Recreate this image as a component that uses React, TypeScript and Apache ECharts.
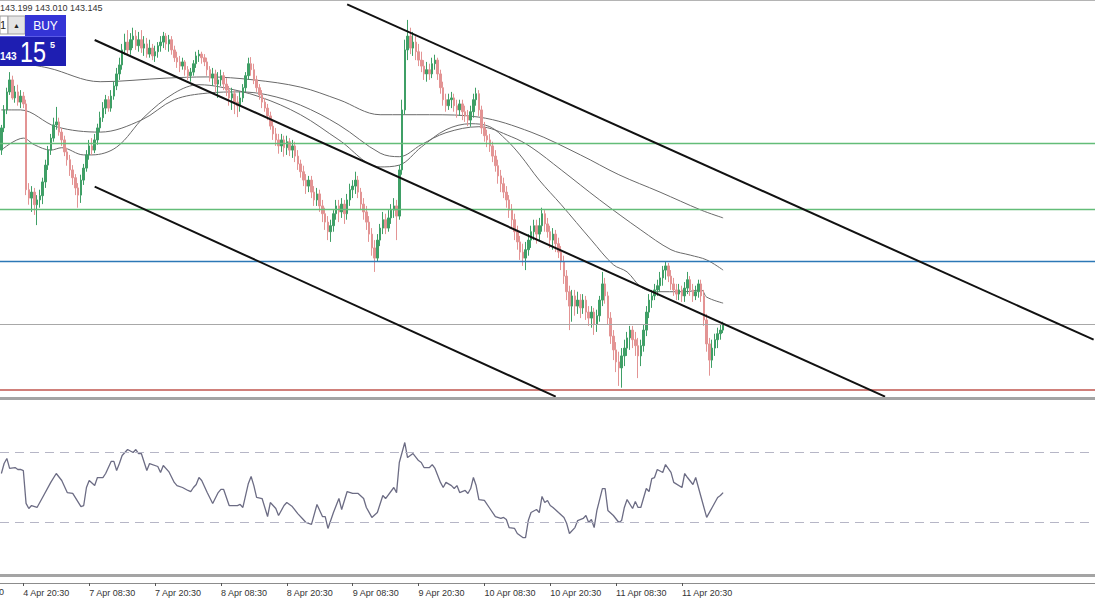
import React, { useEffect, useRef } from "react";
import * as echarts from "echarts";

// USDJPY M30 — price pane, RSI pane and time scale
const SLOTS = 399; // bar slots across the window (includes the empty shift area on the right)

const open = [
  146.06,146.43,146.73,147.03,147.23,146.93,147.03,146.86,146.96,146.83,
  145.40,145.26,145.36,145.15,145.23,145.30,145.53,145.81,146.06,146.26,
  146.48,146.53,146.36,146.23,146.03,145.90,145.73,145.60,145.43,145.31,
  145.56,145.76,145.98,146.13,146.06,146.23,146.43,146.60,146.76,146.90,
  146.76,146.96,147.13,147.33,147.48,147.73,147.86,147.73,147.90,147.96,
  147.80,147.90,147.76,147.83,147.66,147.76,147.63,147.70,147.80,147.86,
  147.96,147.83,147.90,147.73,147.60,147.53,147.46,147.53,147.40,147.30,
  147.36,147.50,147.63,147.66,147.60,147.53,147.40,147.26,147.33,147.16,
  147.23,147.30,147.16,147.06,146.93,147.00,146.86,146.80,146.93,147.10,
  147.30,147.50,147.40,147.23,147.10,146.98,146.86,146.76,146.63,146.46,
  146.33,146.23,146.13,146.23,146.10,146.20,146.06,146.13,145.96,145.83,
  145.70,145.56,145.46,145.56,145.36,145.23,145.33,145.13,145.00,144.86,
  144.70,144.80,145.00,145.13,145.03,145.16,145.00,145.23,145.40,145.46,
  145.56,145.36,145.16,145.03,144.86,144.66,144.43,144.26,144.56,144.76,
  144.90,144.76,144.93,145.06,145.13,144.96,145.73,146.73,147.73,147.96,
  147.76,147.86,147.70,147.56,147.46,147.33,147.40,147.33,147.50,147.56,
  147.33,147.10,146.90,146.80,146.90,146.93,146.80,146.73,146.83,146.70,
  146.63,146.56,146.70,146.90,147.00,146.73,146.43,146.30,146.23,146.13,
  145.96,145.80,145.63,145.50,145.36,145.23,145.06,144.90,144.70,144.53,
  144.36,144.26,144.40,144.56,144.70,144.80,144.66,144.80,145.00,144.83,
  144.70,144.56,144.66,144.50,144.36,144.20,143.96,143.70,143.46,143.63,
  143.46,143.56,143.43,143.56,143.36,143.26,143.36,143.16,143.30,143.56,
  143.83,143.63,143.26,142.96,142.73,142.53,142.43,142.63,142.76,142.93,
  143.06,142.90,142.80,142.63,142.80,143.06,143.36,143.56,143.63,143.73,
  143.80,143.93,144.06,144.13,143.96,143.83,143.73,143.66,143.73,143.63,
  143.76,143.90,143.73,143.63,143.70,143.83,143.63,143.23,142.83,142.56,
  142.76,142.90,143.00,143.06,
];

const close = [
  146.43,146.73,147.03,147.23,146.93,147.03,146.86,146.96,146.83,145.40,
  145.26,145.36,145.15,145.23,145.30,145.53,145.81,146.06,146.26,146.48,
  146.53,146.36,146.23,146.03,145.90,145.73,145.60,145.43,145.31,145.56,
  145.76,145.98,146.13,146.06,146.23,146.43,146.60,146.76,146.90,146.76,
  146.96,147.13,147.33,147.48,147.73,147.86,147.73,147.90,147.96,147.80,
  147.90,147.76,147.83,147.66,147.76,147.63,147.70,147.80,147.86,147.96,
  147.83,147.90,147.73,147.60,147.53,147.46,147.53,147.40,147.30,147.36,
  147.50,147.63,147.66,147.60,147.53,147.40,147.26,147.33,147.16,147.23,
  147.30,147.16,147.06,146.93,147.00,146.86,146.80,146.93,147.10,147.30,
  147.50,147.40,147.23,147.10,146.98,146.86,146.76,146.63,146.46,146.33,
  146.23,146.13,146.23,146.10,146.20,146.06,146.13,145.96,145.83,145.70,
  145.56,145.46,145.56,145.36,145.23,145.33,145.13,145.00,144.86,144.70,
  144.80,145.00,145.13,145.03,145.16,145.00,145.23,145.40,145.46,145.56,
  145.36,145.16,145.03,144.86,144.66,144.43,144.26,144.56,144.76,144.90,
  144.76,144.93,145.06,145.13,144.96,145.73,146.73,147.73,147.96,147.76,
  147.86,147.70,147.56,147.46,147.33,147.40,147.33,147.50,147.56,147.33,
  147.10,146.90,146.80,146.90,146.93,146.80,146.73,146.83,146.70,146.63,
  146.56,146.70,146.90,147.00,146.73,146.43,146.30,146.23,146.13,145.96,
  145.80,145.63,145.50,145.36,145.23,145.06,144.90,144.70,144.53,144.36,
  144.26,144.40,144.56,144.70,144.80,144.66,144.80,145.00,144.83,144.70,
  144.56,144.66,144.50,144.36,144.20,143.96,143.70,143.46,143.63,143.46,
  143.56,143.43,143.56,143.36,143.26,143.36,143.16,143.30,143.56,143.83,
  143.63,143.26,142.96,142.73,142.53,142.43,142.63,142.76,142.93,143.06,
  142.90,142.80,142.63,142.80,143.06,143.36,143.56,143.63,143.73,143.80,
  143.93,144.06,144.13,143.96,143.83,143.73,143.66,143.73,143.63,143.76,
  143.90,143.73,143.63,143.70,143.83,143.63,143.23,142.83,142.56,142.76,
  142.90,143.00,143.06,143.145,
];

const high = [
  146.48,146.81,147.10,147.36,147.30,147.13,147.15,147.06,147.03,146.90,
  145.51,145.46,145.43,145.31,145.40,145.60,145.90,146.13,146.33,146.60,
  146.78,146.60,146.43,146.30,146.10,145.98,145.81,145.66,145.51,145.65,
  145.83,146.06,146.23,146.26,146.33,146.50,146.70,146.86,146.98,146.96,
  147.06,147.20,147.43,147.60,147.83,148.00,148.06,148.01,148.10,148.06,
  148.03,148.06,147.96,147.93,147.90,147.83,147.80,147.86,147.96,148.03,
  148.01,147.98,147.96,147.80,147.70,147.63,147.60,147.56,147.46,147.43,
  147.56,147.70,147.73,147.70,147.66,147.60,147.46,147.43,147.40,147.36,
  147.40,147.36,147.26,147.13,147.10,147.06,146.96,147.03,147.16,147.36,
  147.60,147.61,147.50,147.30,147.16,147.06,146.93,146.83,146.70,146.56,
  146.43,146.33,146.33,146.30,146.30,146.26,146.23,146.20,146.06,145.90,
  145.80,145.66,145.63,145.63,145.46,145.43,145.40,145.23,145.10,144.96,
  144.90,145.06,145.23,145.23,145.26,145.23,145.33,145.50,145.56,145.70,
  145.63,145.43,145.26,145.13,144.96,144.76,144.56,144.66,144.83,145.03,
  145.00,145.06,145.16,145.26,145.23,145.81,146.90,147.90,148.23,148.10,
  148.03,147.96,147.83,147.70,147.56,147.53,147.50,147.60,147.65,147.60,
  147.40,147.20,147.00,147.00,147.03,147.00,146.90,146.90,146.90,146.80,
  146.73,146.80,147.00,147.10,147.06,146.80,146.53,146.40,146.33,146.20,
  146.06,145.90,145.73,145.60,145.46,145.31,145.16,145.00,144.80,144.63,
  144.50,144.53,144.66,144.80,144.90,144.90,144.93,145.10,145.06,144.93,
  144.80,144.76,144.73,144.60,144.46,144.30,144.06,143.80,143.73,143.73,
  143.70,143.66,143.66,143.63,143.46,143.46,143.43,143.40,143.63,144.03,
  143.93,143.70,143.36,143.06,142.86,142.70,142.76,142.90,143.03,143.13,
  143.13,143.03,142.93,142.90,143.16,143.46,143.66,143.73,143.83,143.90,
  144.03,144.13,144.20,144.18,144.06,143.93,143.83,143.83,143.80,143.86,
  144.03,143.96,143.83,143.80,143.90,143.90,143.73,143.33,142.93,142.90,
  143.00,143.10,143.16,143.199,
];

const low = [
  145.98,146.36,146.66,146.98,146.90,146.85,146.80,146.76,146.76,145.31,
  145.15,145.03,144.98,144.81,145.10,145.16,145.43,145.73,145.98,146.20,
  146.40,146.30,146.13,145.96,145.80,145.63,145.48,145.31,145.10,145.18,
  145.48,145.70,145.90,145.98,146.01,146.15,146.36,146.53,146.66,146.70,
  146.70,146.90,147.06,147.23,147.40,147.65,147.66,147.65,147.76,147.73,
  147.70,147.68,147.63,147.60,147.60,147.56,147.53,147.60,147.70,147.76,
  147.73,147.70,147.65,147.53,147.43,147.36,147.40,147.30,147.23,147.20,
  147.30,147.43,147.53,147.50,147.46,147.30,147.20,147.13,147.03,146.93,
  147.13,147.06,146.96,146.80,146.73,146.66,146.61,146.70,146.86,147.03,
  147.23,147.30,147.16,147.03,146.90,146.76,146.70,146.56,146.40,146.23,
  146.13,146.00,146.03,145.95,145.98,145.96,145.93,145.86,145.73,145.60,
  145.46,145.33,145.36,145.26,145.13,145.13,145.03,144.86,144.73,144.56,
  144.53,144.70,144.90,144.86,144.93,144.83,144.90,145.13,145.26,145.33,
  145.26,145.06,144.90,144.73,144.53,144.30,144.03,144.20,144.46,144.66,
  144.66,144.70,144.83,144.93,144.56,144.90,145.65,146.65,147.56,147.66,
  147.63,147.56,147.46,147.36,147.23,147.20,147.23,147.26,147.40,147.23,
  147.00,146.80,146.70,146.73,146.76,146.70,146.60,146.63,146.56,146.53,
  146.46,146.45,146.60,146.80,146.63,146.33,146.20,146.11,146.03,145.86,
  145.70,145.50,145.36,145.26,145.10,144.93,144.76,144.56,144.40,144.23,
  144.13,144.06,144.30,144.43,144.56,144.50,144.56,144.70,144.70,144.60,
  144.43,144.40,144.36,144.26,144.06,143.83,143.56,143.06,143.20,143.30,
  143.33,143.26,143.33,143.23,143.13,143.10,142.98,143.03,143.20,143.46,
  143.50,143.16,142.83,142.56,142.36,142.13,142.10,142.46,142.63,142.73,
  142.76,142.63,142.26,142.46,142.70,142.96,143.26,143.43,143.56,143.63,
  143.70,143.80,143.90,143.86,143.73,143.63,143.56,143.56,143.53,143.53,
  143.66,143.63,143.53,143.56,143.60,143.53,143.13,142.70,142.30,142.43,
  142.63,142.76,142.90,143.01,
];

// Moving averages (bar index, price)
const maSlowBars = [0, 17, 36, 60, 75, 92, 109, 123, 138, 156, 174, 193, 211, 225, 240, 255, 263];
const maSlowVals = [147.56, 147.43, 147.2, 147.26, 147.28, 147.23, 147.11, 146.9, 146.65, 146.65, 146.61, 146.36, 145.98, 145.65, 145.36, 145.06, 144.93];

const maMidBars = [0, 7, 20, 36, 51, 63, 75, 87, 97, 109, 123, 138, 145, 153, 162, 174, 186, 193, 204, 218, 233, 244, 251, 257, 263];
const maMidVals = [146.73, 146.73, 146.45, 146.36, 146.56, 146.9, 147.01, 147.03, 146.98, 146.81, 146.48, 146.01, 145.95, 146.15, 146.35, 146.45, 146.28, 146.11, 145.73, 145.23, 144.73, 144.4, 144.31, 144.23, 144.06];

const maFastBars = [0, 8, 12, 18, 22, 30, 33, 42, 52, 63, 72, 80, 94, 109, 123, 138, 145, 153, 162, 171, 178, 184, 189, 196, 204, 215, 223, 228, 233, 238, 249, 255, 257, 263];
const maFastVals = [146.06, 146.26, 146.15, 146.06, 146.1, 145.98, 145.98, 146.11, 146.61, 147.01, 147.15, 147.11, 146.95, 146.65, 146.23, 145.78, 145.81, 146.11, 146.4, 146.5, 146.45, 146.23, 145.98, 145.56, 145.15, 144.56, 144.15, 144.03, 143.78, 143.7, 143.7, 143.73, 143.61, 143.51];

// Drawn channel lines: [barA, priceA, barB, priceB]
const channelLines = [
  [126, 148.49, 398, 142.9],
  [34, 147.895, 322, 141.95],
  [34, 145.45, 202, 141.95],
];

// Horizontal levels
const levelPrices = [146.18, 145.08, 144.21, 143.145, 142.06];
const levelColors = ["#63bd78", "#63bd78", "#2c78b6", "#a8a8a8", "#c0564f"];
const levelWidths = [1.3, 1.3, 1.4, 1, 1.6];

// RSI samples (bar index, value)
const rsiBars = [0,1,2,3,5,6,7,8,9,10,11,13,15,18,20,22,24,26,29,30,31,32,34,35,37,38,40,41,42,43,44,46,48,49,50,51,53,54,57,58,59,61,63,64,66,68,69,70,71,72,73,75,77,79,80,81,83,86,87,88,90,91,92,93,95,97,98,100,101,103,104,106,108,110,111,113,115,116,117,118,119,121,122,123,124,126,128,130,132,133,135,137,139,140,143,144,145,146,147,148,150,152,153,154,156,157,158,160,161,162,164,165,166,167,169,170,171,172,173,174,176,178,180,182,183,184,185,187,188,190,191,192,193,195,196,197,198,199,200,201,203,205,206,207,209,210,212,213,214,215,216,217,219,220,221,223,225,226,227,228,230,231,232,233,235,236,237,238,239,241,242,244,245,248,249,250,252,253,255,257,259,261,262,263];
const rsiVals = [58.0,63.7,66.6,60.9,61.4,60.3,60.3,59.7,40.9,38.0,39.7,38.6,44.3,52.9,58.0,54.0,47.1,46.6,39.1,39.7,50.0,54.0,51.1,55.7,55.7,58.0,64.9,64.9,59.7,63.7,68.3,71.7,70.0,71.7,69.4,69.4,59.7,63.7,62.0,58.6,62.6,59.1,52.9,51.1,50.0,48.3,47.7,50.0,51.7,55.7,54.0,47.1,40.9,47.1,48.9,48.9,39.7,39.7,40.3,38.6,52.3,56.3,51.1,44.3,43.7,33.4,41.4,38.0,34.0,39.7,41.4,39.1,35.1,31.7,30.0,28.9,40.3,36.9,33.4,33.4,26.6,35.7,39.7,43.7,37.4,47.7,46.6,46.6,43.7,38.6,32.9,35.7,45.4,43.7,50.0,47.1,64.3,70.0,75.7,67.1,69.4,65.4,64.3,61.4,61.4,63.1,60.9,52.9,50.0,52.9,51.1,49.4,51.1,47.1,48.3,46.6,49.4,55.7,51.1,43.1,42.6,38.0,33.4,32.3,32.9,31.7,27.1,26.6,23.7,21.4,21.4,31.1,35.7,37.4,35.7,44.9,41.4,42.6,39.7,38.6,35.7,32.9,29.4,23.7,27.1,31.1,32.3,34.0,30.0,31.7,27.1,36.9,49.4,49.4,36.9,34.0,30.0,31.1,38.6,43.1,38.0,42.0,38.6,38.6,49.4,47.7,55.1,55.7,60.3,58.6,63.1,58.6,52.9,50.0,58.0,55.7,51.7,55.7,44.3,32.9,38.6,44.3,45.4,47.1];
const rsiLevels = [70, 30];

// Time scale
const tickBars = [8, 32, 56, 80, 104, 128, 152, 176, 200, 224, 248];
const tickLabels = [
  "4 Apr 20:30", "7 Apr 08:30", "7 Apr 20:30", "8 Apr 08:30", "8 Apr 20:30",
  "9 Apr 08:30", "9 Apr 20:30", "10 Apr 08:30", "10 Apr 20:30", "11 Apr 08:30", "11 Apr 20:30",
];

const UP = "#3f9f66";
const DOWN = "#e39494";
const FONT = "Liberation Sans, Arial, sans-serif";

export default function App() {
  const ref = useRef<HTMLDivElement>(null);

  useEffect(() => {
    const chart = echarts.init(ref.current as HTMLDivElement, null, { renderer: "svg" });
    const slots = Array.from({ length: SLOTS }, (_, i) => String(i));
    const timeCats = slots.map((_, i) => {
      const k = tickBars.indexOf(i);
      return k >= 0 ? tickLabels[k] : "";
    });
    const candles = close.map((c, i) => [open[i], c, low[i], high[i]]);
    const pairs = (xs: number[], ys: number[]) => xs.map((x, i) => [x, ys[i]]);

    // horizontal levels: each one its own series with a full-width mark line
    const levelSeries = levelPrices.map((p, i) => ({
      type: "line",
      xAxisIndex: 0,
      yAxisIndex: 0,
      data: [[0, p], [SLOTS - 1, p]],
      showSymbol: false,
      silent: true,
      lineStyle: { opacity: 0 },
      z: 2,
      markLine: {
        silent: true,
        symbol: "none",
        label: { show: false },
        lineStyle: { color: levelColors[i], width: levelWidths[i], type: "solid" },
        data: [{ yAxis: p }],
      },
    }));

    const maSeries = [
      pairs(maSlowBars, maSlowVals),
      pairs(maMidBars, maMidVals),
      pairs(maFastBars, maFastVals),
    ].map((d) => ({
      type: "line",
      xAxisIndex: 0,
      yAxisIndex: 0,
      data: d,
      smooth: 0.35,
      showSymbol: false,
      silent: true,
      lineStyle: { color: "#6a6a6a", width: 1 },
      z: 3,
    }));

    const chanSeries = channelLines.map((l) => ({
      type: "line",
      xAxisIndex: 0,
      yAxisIndex: 0,
      data: [[l[0], l[1]], [l[2], l[3]]],
      showSymbol: false,
      silent: true,
      lineStyle: { color: "#111111", width: 2 },
      z: 6,
    }));

    const panelZ = 50;

    chart.setOption({
      animation: false,
      backgroundColor: "#ffffff",
      grid: [
        { left: 0, right: 0, top: 3, height: 394 },
        { left: 0, right: 0, top: 400, height: 175 },
        { left: 0, right: 0, top: 582, height: 1 },
      ],
      xAxis: [
        { type: "category", gridIndex: 0, data: slots, boundaryGap: true, show: false },
        { type: "category", gridIndex: 1, data: slots, boundaryGap: true, show: false },
        {
          type: "category",
          gridIndex: 2,
          data: timeCats,
          boundaryGap: true,
          axisLine: { show: true, lineStyle: { color: "#8c8c8c", width: 1 } },
          axisTick: {
            show: true,
            alignWithLabel: true,
            length: 3,
            interval: (i: number) => tickBars.indexOf(i) >= 0,
            lineStyle: { color: "#555" },
          },
          axisLabel: {
            interval: (i: number, v: string) => v !== "",
            align: "left",
            margin: 5,
            fontSize: 9,
            color: "#333",
            fontFamily: FONT,
          },
          splitLine: { show: false },
        },
      ],
      yAxis: [
        { type: "value", gridIndex: 0, min: 141.945, max: 148.512, show: false, splitLine: { show: false } },
        { type: "value", gridIndex: 1, min: 0, max: 100, show: false, splitLine: { show: false } },
        { type: "value", gridIndex: 2, show: false, splitLine: { show: false } },
      ],
      series: [
        ...levelSeries,
        {
          type: "candlestick",
          xAxisIndex: 0,
          yAxisIndex: 0,
          data: candles,
          barWidth: 2,
          silent: true,
          itemStyle: { color: UP, color0: DOWN, borderColor: UP, borderColor0: DOWN, borderWidth: 1 },
          z: 4,
        },
        ...maSeries,
        ...chanSeries,
        {
          type: "line",
          xAxisIndex: 1,
          yAxisIndex: 1,
          data: pairs(rsiBars, rsiVals),
          showSymbol: false,
          silent: true,
          lineStyle: { color: "#6c6c84", width: 1.3 },
          markLine: {
            silent: true,
            symbol: "none",
            label: { show: false },
            data: rsiLevels.map((v) => ({ yAxis: v })),
            lineStyle: { color: "#b6b6c6", width: 1, type: [9, 6] },
          },
        },
        { type: "line", xAxisIndex: 2, yAxisIndex: 2, data: [], showSymbol: false },
      ],
      graphic: [
        { type: "rect", shape: { x: 0, y: 0, width: 1095, height: 1 }, style: { fill: "#b4b4b4" }, z: panelZ },
        { type: "rect", shape: { x: 0, y: 397, width: 1095, height: 3 }, style: { fill: "#a4a4a4" }, z: panelZ },
        { type: "rect", shape: { x: 0, y: 574, width: 1095, height: 3 }, style: { fill: "#a4a4a4" }, z: panelZ },
        {
          type: "text", x: 0, y: 3, z: panelZ,
          style: { text: "143.199 143.010 143.145", fontSize: 9, fill: "#333", fontFamily: FONT },
        },
        { type: "text", x: -1, y: 587, z: panelZ, style: { text: "0", fontSize: 9, fill: "#333", fontFamily: FONT } },
        // one-click trading panel
        { type: "rect", shape: { x: 0, y: 16, width: 8, height: 18 }, style: { fill: "#ffffff", stroke: "#9a9a9a", lineWidth: 1 }, z: panelZ },
        { type: "text", x: 0, y: 19, z: panelZ + 1, style: { text: "1", fontSize: 11, fill: "#222", fontFamily: FONT } },
        { type: "rect", shape: { x: 8, y: 16, width: 17, height: 18 }, style: { fill: "#e4e4e4", stroke: "#a0a0a0", lineWidth: 1 }, z: panelZ },
        { type: "text", x: 16.5, y: 25, z: panelZ + 1, style: { text: "▲", fontSize: 7, fill: "#222", align: "center", verticalAlign: "middle" } },
        { type: "rect", shape: { x: 25, y: 15, width: 41, height: 21 }, style: { fill: "#3434d6" }, z: panelZ },
        { type: "text", x: 45.5, y: 26, z: panelZ + 1, style: { text: "BUY", fontSize: 12, fill: "#ffffff", align: "center", verticalAlign: "middle", fontFamily: FONT } },
        { type: "rect", shape: { x: 0, y: 36, width: 66, height: 30 }, style: { fill: "#1e1eb2" }, z: panelZ },
        { type: "rect", shape: { x: 0, y: 36, width: 66, height: 1 }, style: { fill: "#5a5ae6" }, z: panelZ + 1 },
        { type: "text", x: 0, y: 51, z: panelZ + 1, style: { text: "143", fontSize: 10, fontWeight: "bold", fill: "#ffffff", fontFamily: FONT } },
        { type: "text", x: 20, y: 37, scaleX: 0.78, z: panelZ + 1, style: { text: "15", fontSize: 30, fill: "#ffffff", fontFamily: FONT } },
        { type: "text", x: 50, y: 40, z: panelZ + 1, style: { text: "5", fontSize: 9, fontWeight: "bold", fill: "#ffffff", fontFamily: FONT } },
      ],
    });

    return () => chart.dispose();
  }, []);

  return (
    <div
      ref={ref}
      style={{ position: "fixed", left: 0, top: 0, width: 1095, height: 600, background: "#ffffff" }}
    />
  );
}
